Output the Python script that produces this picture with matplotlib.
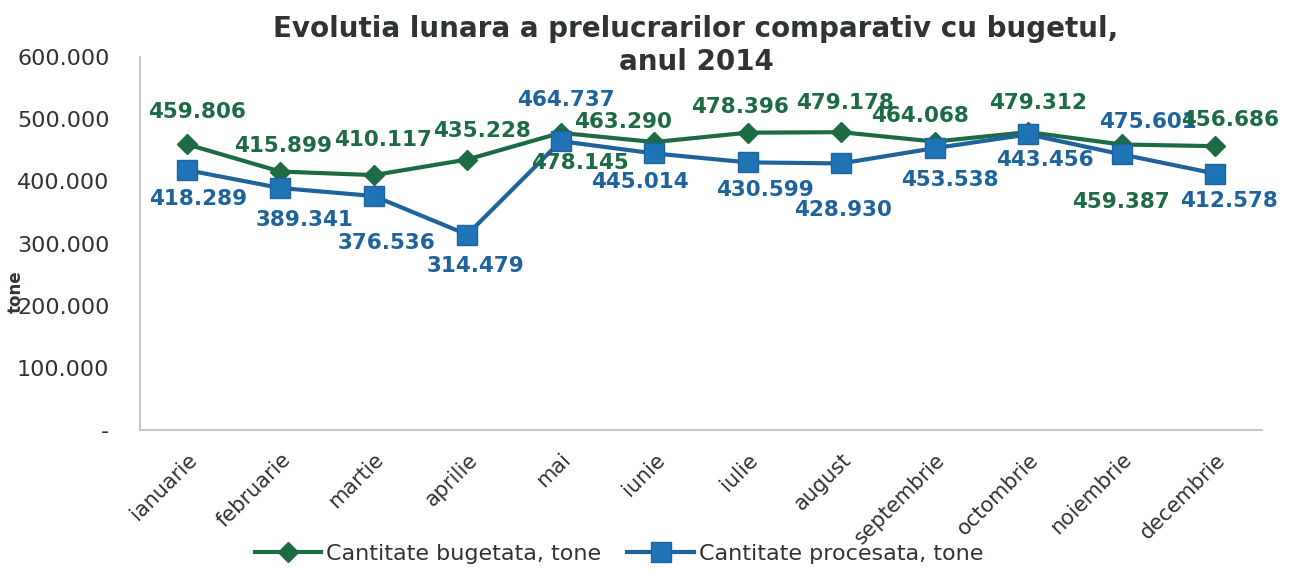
import numpy as np
import matplotlib
matplotlib.use("Agg")
import matplotlib.pyplot as plt
from matplotlib.ticker import FuncFormatter

# Monthly data, tonnes
months = ["ianuarie", "februarie", "martie", "aprilie", "mai", "iunie",
          "iulie", "august", "septembrie", "octombrie", "noiembrie", "decembrie"]
bugetata = [459806, 415899, 410117, 435228, 478145, 463290,
            478396, 479178, 464068, 479312, 459387, 456686]
procesata = [418289, 389341, 376536, 314479, 464737, 445014,
             430599, 428930, 453538, 475601, 443456, 412578]

GREEN = "#1d6b45"
BLUE = "#1f639c"
BLUE_FILL = "#1f74b6"
TEXT = "#2f3433"

# label offsets in pixels (dx, dy) - placement as in the original
off_green = [(10, 32), (3, 26), (9, 35), (15, 29), (19, -30), (-31, 20),
             (-8, 26), (4, 29), (-15, 26), (10, 29), (-1, -58), (15, 26)]
off_blue = [(11, -29), (24, -32), (13, -47), (8, -31), (5, 41), (-14, -29),
            (17, -28), (2, -47), (15, -32), (120, 12), (-77, -6), (14, -27)]


def fmt_ro(v, pos=None):
    if v == 0:
        return "-"
    return f"{int(round(v)):,}".replace(",", ".")


fig = plt.figure(figsize=(12.89, 5.71), dpi=100)
ax = fig.add_axes([0.1086, 0.2469, 0.8704, 0.6531])

x = np.arange(len(months))
ax.plot(x, bugetata, color=GREEN, lw=3, marker="D", ms=10,
        mfc=GREEN, mec=GREEN, label="Cantitate bugetata, tone", zorder=3)
ax.plot(x, procesata, color=BLUE, lw=3, marker="s", ms=14,
        mfc=BLUE_FILL, mec=BLUE, label="Cantitate procesata, tone", zorder=4)

for i in range(len(months)):
    ax.annotate(fmt_ro(bugetata[i]), (x[i], bugetata[i]), xytext=off_green[i],
                textcoords="offset pixels", ha="center", va="center",
                fontsize=15.5, fontweight="bold", color=GREEN, zorder=5)
    ax.annotate(fmt_ro(procesata[i]), (x[i], procesata[i]), xytext=off_blue[i],
                textcoords="offset pixels", ha="center", va="center",
                fontsize=15.5, fontweight="bold", color=BLUE, zorder=5)

ax.set_xlim(-0.5, len(months) - 0.5)
ax.set_ylim(0, 600000)
ax.set_yticks(np.arange(0, 600001, 100000))
ax.yaxis.set_major_formatter(FuncFormatter(fmt_ro))
ax.set_xticks(x)
ax.set_xticklabels(months, rotation=45, ha="right", rotation_mode="anchor")
ax.tick_params(axis="y", length=0, pad=22, labelsize=16, labelcolor=TEXT)
ax.tick_params(axis="x", length=0, pad=14, labelsize=15, labelcolor=TEXT)

for s in ["top", "right"]:
    ax.spines[s].set_visible(False)
for s in ["left", "bottom"]:
    ax.spines[s].set_color("#c8c8c8")
    ax.spines[s].set_linewidth(1.5)

fig.text(0.54, 0.92, "Evolutia lunara a prelucrarilor comparativ cu bugetul,\nanul 2014",
         ha="center", va="center", fontsize=20, fontweight="bold", color=TEXT,
         linespacing=1.25)
fig.text(0.012, 0.49, "tone", rotation=90, ha="center", va="center",
         fontsize=12, fontweight="bold", color=TEXT)

fig.legend(loc="center", bbox_to_anchor=(0.48, 0.03), ncol=2, frameon=False,
           fontsize=16, handlelength=3, columnspacing=1.2, handletextpad=0.2,
           labelcolor=TEXT)

fig.savefig("out.png", dpi=100)
